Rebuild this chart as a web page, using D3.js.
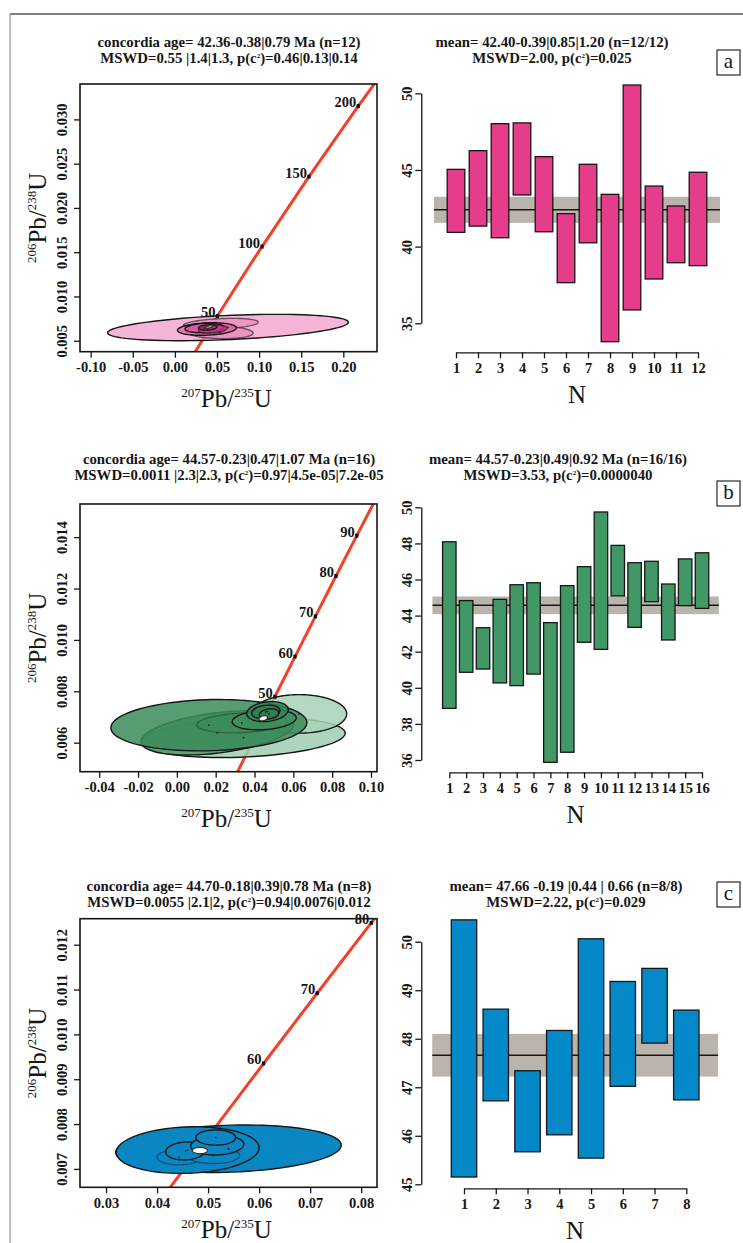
<!DOCTYPE html>
<html>
<head>
<meta charset="utf-8">
<script src="https://cdn.jsdelivr.net/npm/d3@7"></script>
<style>
  body { margin: 0; background: #fff; }
  svg { display: block; }
</style>
</head>
<body>
<div id="fig"></div>
<script>
// concordia curve: age (Ma) with 207Pb/235U and 206Pb/238U
const concAge = [0, 30, 40, 50, 60, 70, 80, 90, 100, 150, 200, 250];
const concX = [0, 0.029986, 0.04018, 0.050475, 0.060872, 0.071371, 0.081975, 0.092683, 0.1035, 0.1592, 0.2177, 0.27918];
const concY = [0, 0.0046646, 0.0062243, 0.0077864, 0.0093509, 0.010918, 0.012487, 0.014059, 0.015633, 0.023542, 0.031511, 0.039543];

// age ticks labelled on each concordia
const agesA = [50, 100, 150, 200];
const agesB = [50, 60, 70, 80, 90];
const agesC = [60, 70, 80];

// error ellipses: [207/235, half width, 206/238, half height, rho]
const ellA = [
  [0.063, 0.143, 0.00649, 0.00149, 0.4],
  [0.0545, 0.0445, 0.00691, 0.00062, 0.3],
  [0.0535, 0.0395, 0.00594, 0.00071, -0.1],
  [0.038, 0.035, 0.00632, 0.00071, 0.2],
  [0.035, 0.023, 0.00644, 0.00053, 0.2],
  [0.045, 0.017, 0.0063, 0.00045, 0.3],
  [0.039, 0.011, 0.0065, 0.0003, 0.2]
];
const ageEllA = [0.0405, 0.0045, 0.00656, 0.00013, 0.5];

const ellB = [
  [0.0343, 0.0524, 0.0062, 0.00078, 0.22],
  [0.063, 0.0245, 0.00712, 0.00075, 0.0],
  [0.0208, 0.0393, 0.00638, 0.00086, 0.4],
  [0.0165, 0.0505, 0.00668, 0.001, 0.1],
  [0.0334, 0.0232, 0.00677, 0.00039, 0.2],
  [0.045, 0.0165, 0.00689, 0.00039, 0.2],
  [0.0467, 0.0107, 0.00721, 0.00039, 0.2],
  [0.0458, 0.0073, 0.0072, 0.00026, 0.2],
  [0.0475, 0.005, 0.00712, 0.0002, 0.2]
];
const ageEllB = [0.0445, 0.0022, 0.00695, 0.0001, 0.3];

const ellC = [
  [0.054, 0.0221, 0.00745, 0.00053, 0.15],
  [0.046, 0.014, 0.00742, 0.00052, 0.1],
  [0.0443, 0.0043, 0.00726, 0.00017, 0.0],
  [0.051, 0.0052, 0.0073, 0.00018, 0.0],
  [0.0456, 0.0039, 0.0074, 0.0002, 0.1],
  [0.0518, 0.0052, 0.00753, 0.00022, 0.1],
  [0.0515, 0.0039, 0.0077, 0.00017, 0.0]
];
const ageEllC = [0.0484, 0.0015, 0.00741, 0.00007, 0];

// axis ticks of the concordia plots
const xTicksA = [-0.10, -0.05, 0.00, 0.05, 0.10, 0.15, 0.20];
const yTicksA = [0.005, 0.010, 0.015, 0.020, 0.025, 0.030];
const xTicksB = [-0.04, -0.02, 0.00, 0.02, 0.04, 0.06, 0.08, 0.10];
const yTicksB = [0.006, 0.008, 0.010, 0.012, 0.014];
const xTicksC = [0.03, 0.04, 0.05, 0.06, 0.07, 0.08];
const yTicksC = [0.007, 0.008, 0.009, 0.010, 0.011, 0.012];

// weighted mean ages (Ma): bar bottoms / tops
const loA = [40.93, 41.34, 40.58, 43.37, 40.97, 37.65, 40.25, 33.8, 35.87, 37.89, 38.95, 38.76];
const hiA = [45.04, 46.26, 48.02, 48.07, 45.87, 42.15, 45.37, 43.41, 50.54, 43.95, 42.65, 44.85];
const meanA = 42.40, errA = 0.85;
const loB = [38.86, 40.86, 41.04, 40.27, 40.12, 40.76, 35.87, 36.43, 42.52, 42.13, 45.09, 43.35, 44.77, 42.65, 44.55, 44.4];
const hiB = [48.09, 44.83, 43.33, 44.9, 45.71, 45.82, 43.61, 45.66, 46.71, 49.74, 47.89, 46.93, 47.01, 45.75, 47.14, 47.48];
const meanB = 44.57, errB = 0.49;
const loC = [45.15, 46.72, 45.67, 46.02, 45.54, 47.02, 47.91, 46.74];
const hiC = [50.45, 48.61, 47.34, 48.17, 50.06, 49.18, 49.45, 48.59];
const meanC = 47.66, errC = 0.44;
const yTicksMA = [35, 40, 45, 50];
const yTicksMB = [36, 38, 40, 42, 44, 46, 48, 50];
const yTicksMC = [45, 46, 47, 48, 49, 50];

const FONT = '"Liberation Serif","Times New Roman",serif';
const INK = "#161616";
const TICK_FS = 14.5;
const TITLE_FS = 14.8;

const svg = d3.select("#fig").append("svg").attr("width", 743).attr("height", 1243);

// page frame
svg.append("line").attr("x1", 10).attr("x2", 743).attr("y1", 14).attr("y2", 14)
  .attr("stroke", "#555").attr("stroke-width", 1.5);
svg.append("line").attr("x1", 10).attr("x2", 10).attr("y1", 14).attr("y2", 1243)
  .attr("stroke", "#aaa").attr("stroke-width", 1.5);

function ellPts(e, x, y) {
  const [cx, hw, cy, hh, r] = e;
  const s = Math.sqrt(1 - r * r);
  return d3.range(0, 360, 4).map((a) => {
    const t = (a * Math.PI) / 180;
    return [x(cx + hw * Math.cos(t)), y(cy + hh * (r * Math.cos(t) + s * Math.sin(t)))];
  });
}

function title(g, cx, y, lines) {
  lines.forEach((str, k) => {
    const parts = str.split("²");
    const t = g.append("text").attr("x", cx).attr("y", y + k * 16)
      .attr("text-anchor", "middle").attr("font-family", FONT)
      .attr("font-weight", "bold").attr("font-size", TITLE_FS).attr("fill", INK);
    t.append("tspan").text(parts[0]);
    if (parts.length > 1) {
      t.append("tspan").attr("dy", -5).attr("font-size", 7).text("2");
      t.append("tspan").attr("dy", 5).text(parts[1]);
    }
  });
}

function isoLabel(g, sup1, main1, sup2, main2) {
  const t = g.append("text").attr("text-anchor", "middle").attr("font-family", FONT).attr("fill", INK);
  t.append("tspan").attr("font-size", 13).attr("dy", -10).text(sup1);
  t.append("tspan").attr("font-size", 25).attr("dy", 10).text(main1);
  t.append("tspan").attr("font-size", 13).attr("dy", -10).text(sup2);
  t.append("tspan").attr("font-size", 25).attr("dy", 10).text(main2);
  return t;
}

function styleAxis(ax) {
  ax.attr("font-family", FONT).attr("font-size", TICK_FS).attr("font-weight", "bold");
  ax.selectAll(".tick line").attr("stroke", INK).attr("stroke-width", 1.3);
  ax.selectAll(".tick text").attr("fill", INK);
  ax.select(".domain").attr("stroke", INK).attr("stroke-width", 1.3);
}

function concordiaPanel(o) {
  const [x0, x1, y0, y1] = o.box;
  const x = d3.scaleLinear().domain(o.xDom).range([x0, x1]);
  const y = d3.scaleLinear().domain(o.yDom).range([y1, y0]);
  const g = svg.append("g");

  svg.append("clipPath").attr("id", "clip" + o.id)
    .append("rect").attr("x", x0).attr("y", y0).attr("width", x1 - x0).attr("height", y1 - y0);
  const inner = g.append("g").attr("clip-path", `url(#clip${o.id})`);

  inner.append("path")
    .datum(concAge.map((a, i) => [concX[i], concY[i]]))
    .attr("d", d3.line().x((d) => x(d[0])).y((d) => y(d[1])))
    .attr("fill", "none").attr("stroke", "#f3402b").attr("stroke-width", 3);

  const closed = d3.line().curve(d3.curveLinearClosed);
  inner.selectAll("path.ell").data(o.ell).join("path").attr("class", "ell")
    .attr("d", (e) => closed(ellPts(e, x, y)))
    .attr("fill", (e, i) => o.fill[i]).attr("fill-opacity", o.fillOpacity)
    .attr("stroke", INK).attr("stroke-opacity", (e, i) => o.strokeOp[i])
    .attr("stroke-width", 1.4);
  inner.selectAll("circle.ctr").data(o.ell).join("circle").attr("class", "ctr")
    .attr("cx", (e) => x(e[0])).attr("cy", (e) => y(e[2])).attr("r", 0.9).attr("fill", "#222");
  inner.append("path").attr("d", closed(ellPts(o.ageEll, x, y)))
    .attr("fill", "#fff").attr("stroke", "#333").attr("stroke-width", 1.2);

  // age ticks on the concordia
  const ticks = o.ages.map((a) => [a, concX[concAge.indexOf(a)], concY[concAge.indexOf(a)]]);
  inner.selectAll("rect.age").data(ticks).join("rect").attr("class", "age")
    .attr("x", (d) => x(d[1]) - 1.6).attr("y", (d) => y(d[2]) - 2)
    .attr("width", 3.2).attr("height", 4).attr("fill", "#111");
  g.selectAll("text.age").data(ticks).join("text").attr("class", "age")
    .attr("x", (d) => x(d[1]) - 2).attr("y", (d) => y(d[2]) + 1)
    .attr("text-anchor", "end").attr("font-family", FONT).attr("font-weight", "bold")
    .attr("font-size", TICK_FS).attr("fill", INK).text((d) => d[0]);

  g.append("rect").attr("x", x0).attr("y", y0).attr("width", x1 - x0).attr("height", y1 - y0)
    .attr("fill", "none").attr("stroke", INK).attr("stroke-width", 1.6);

  const ax = g.append("g").attr("transform", `translate(0,${y1})`)
    .call(d3.axisBottom(x).tickValues(o.xTicks).tickSize(6).tickFormat((d) => d.toFixed(2)));
  ax.select(".domain").remove();
  styleAxis(ax);
  ax.selectAll(".tick text").attr("y", 20.5).attr("dy", 0);

  const ay = g.append("g").attr("transform", `translate(${x0},0)`)
    .call(d3.axisLeft(y).tickValues(o.yTicks).tickSize(6).tickFormat((d) => d.toFixed(3)));
  ay.select(".domain").remove();
  styleAxis(ay);
  ay.selectAll(".tick text").attr("transform", "rotate(-90)")
    .attr("x", 0).attr("y", -13).attr("dy", 0).attr("text-anchor", "middle");

  title(g, 229, o.titleY, o.title);
  isoLabel(g, "207", "Pb/", "235", "U")
    .attr("transform", `translate(${(x0 + x1) / 2 - 2},${Math.min(y1 + 55, 1238)})`);
  isoLabel(g, "206", "Pb/", "238", "U").attr("transform", `translate(46,${(y0 + y1) / 2}) rotate(-90)`);
}

function meanPanel(o) {
  const n = o.lo.length;
  const x = d3.scaleLinear().domain([1, n]).range(o.xr);
  const y = d3.scaleLinear().domain([o.yTicks[0], o.yTicks[o.yTicks.length - 1]]).range(o.yr);
  const g = svg.append("g");
  const idx = o.lo.map((d, i) => i + 1);

  g.append("rect").attr("x", x(0)).attr("width", x(n + 1) - x(0))
    .attr("y", y(o.mean + o.err)).attr("height", y(o.mean - o.err) - y(o.mean + o.err))
    .attr("fill", "#bab4ad");
  g.append("line").attr("x1", x(0)).attr("x2", x(n + 1))
    .attr("y1", y(o.mean)).attr("y2", y(o.mean)).attr("stroke", INK).attr("stroke-width", 1.5);

  g.selectAll("rect.bar").data(idx).join("rect").attr("class", "bar")
    .attr("x", (i) => x(i - 0.4)).attr("width", (i) => x(i + 0.4) - x(i - 0.4))
    .attr("y", (i) => y(o.hi[i - 1])).attr("height", (i) => y(o.lo[i - 1]) - y(o.hi[i - 1]))
    .attr("fill", o.color).attr("stroke", INK).attr("stroke-width", 1.3);

  const ax = g.append("g").attr("transform", `translate(0,${o.axisY})`)
    .call(d3.axisBottom(x).tickValues(idx).tickSize(6).tickSizeOuter(0).tickFormat(d3.format("d")));
  styleAxis(ax);
  ax.selectAll(".tick text").attr("y", 20.5).attr("dy", 0);

  const ay = g.append("g").attr("transform", "translate(421.3,0)")
    .call(d3.axisLeft(y).tickValues(o.yTicks).tickSize(6).tickSizeOuter(0).tickFormat(d3.format("d")));
  styleAxis(ay);
  ay.selectAll(".tick text").attr("transform", "rotate(-90)")
    .attr("x", 0).attr("y", -9.5).attr("dy", 0).attr("text-anchor", "middle");

  title(g, o.titleX, o.titleY, o.title);
  g.append("text").attr("x", (o.xr[0] + o.xr[1]) / 2).attr("y", o.axisY + 51)
    .attr("text-anchor", "middle").attr("font-family", FONT).attr("font-size", 25)
    .attr("fill", INK).text("N");

  g.append("rect").attr("x", 717).attr("y", o.boxY).attr("width", 23).attr("height", 25)
    .attr("fill", "#fff").attr("stroke", INK).attr("stroke-width", 1.1);
  g.append("text").attr("x", 728.5).attr("y", o.boxY + 18).attr("text-anchor", "middle")
    .attr("font-family", FONT).attr("font-size", 21).attr("fill", INK).text(o.letter);
}

// panel a
concordiaPanel({
  id: "a", box: [80, 377, 84, 351.7], xDom: [-0.1127, 0.24], yDom: [0.00376, 0.034],
  xTicks: xTicksA, yTicks: yTicksA, ages: agesA, ell: ellA, ageEll: ageEllA,
  fill: ["#f2a2cc", "#ec8dbf", "#e889bb", "#e26aa9", "#d9559d", "#c8357f", "#b82a72"],
  fillOpacity: 0.8, strokeOp: [1, 0.6, 0.6, 1, 1, 0.7, 1],
  titleY: 47,
  title: ["concordia age= 42.36-0.38|0.79 Ma (n=12)", "MSWD=0.55 |1.4|1.3, p(c²)=0.46|0.13|0.14"]
});
meanPanel({
  lo: loA, hi: hiA, mean: meanA, err: errA, yTicks: yTicksMA,
  xr: [456, 698], yr: [323.3, 93.3], axisY: 352.3, color: "#e63d8b",
  titleX: 552, titleY: 47, boxY: 50, letter: "a",
  title: ["mean= 42.40-0.39|0.85|1.20 (n=12/12)", "MSWD=2.00, p(c²)=0.025"]
});

// panel b
concordiaPanel({
  id: "b", box: [80, 377, 504, 771.7], xDom: [-0.0499, 0.1031], yDom: [0.00487, 0.01529],
  xTicks: xTicksB, yTicks: yTicksB, ages: agesB, ell: ellB, ageEll: ageEllB,
  fill: ["#9fcdb0", "#a6d2b7", "#4f9a6b", "#3b8b5b", "#3b8b5b", "#3f8e5e", "#348556", "#2f7f50", "#2f7f50"],
  fillOpacity: 0.85, strokeOp: [1, 1, 1, 1, 0.35, 1, 1, 1, 1],
  titleY: 464,
  title: ["concordia age= 44.57-0.23|0.47|1.07 Ma (n=16)", "MSWD=0.0011 |2.3|2.3, p(c²)=0.97|4.5e-05|7.2e-05"]
});
meanPanel({
  lo: loB, hi: hiB, mean: meanB, err: errB, yTicks: yTicksMB,
  xr: [449.3, 702], yr: [760, 507.3], axisY: 772.3, color: "#419866",
  titleX: 558, titleY: 464, boxY: 481, letter: "b",
  title: ["mean= 44.57-0.23|0.49|0.92 Ma (n=16/16)", "MSWD=3.53, p(c²)=0.0000040"]
});

// panel c
concordiaPanel({
  id: "c", box: [80, 377, 918.7, 1187.3], xDom: [0.0249, 0.0831], yDom: [0.00659, 0.01258],
  xTicks: xTicksC, yTicks: yTicksC, ages: agesC, ell: ellC, ageEll: ageEllC,
  fill: ["#0a86c3", "#0a86c3", "#0a86c3", "#0a86c3", "#0a86c3", "#0a86c3", "#0a86c3"],
  fillOpacity: 1, strokeOp: [1, 1, 0.45, 0.45, 1, 1, 1],
  titleY: 891,
  title: ["concordia age= 44.70-0.18|0.39|0.78 Ma (n=8)", "MSWD=0.0055 |2.1|2, p(c²)=0.94|0.0076|0.012"]
});
meanPanel({
  lo: loC, hi: hiC, mean: meanC, err: errC, yTicks: yTicksMC,
  xr: [464, 686.3], yr: [1184.3, 941.7], axisY: 1188.3, color: "#0588c8",
  titleX: 566, titleY: 891, boxY: 882, letter: "c",
  title: ["mean= 47.66 -0.19 |0.44 | 0.66 (n=8/8)", "MSWD=2.22, p(c²)=0.029"]
});
</script>
</body>
</html>
